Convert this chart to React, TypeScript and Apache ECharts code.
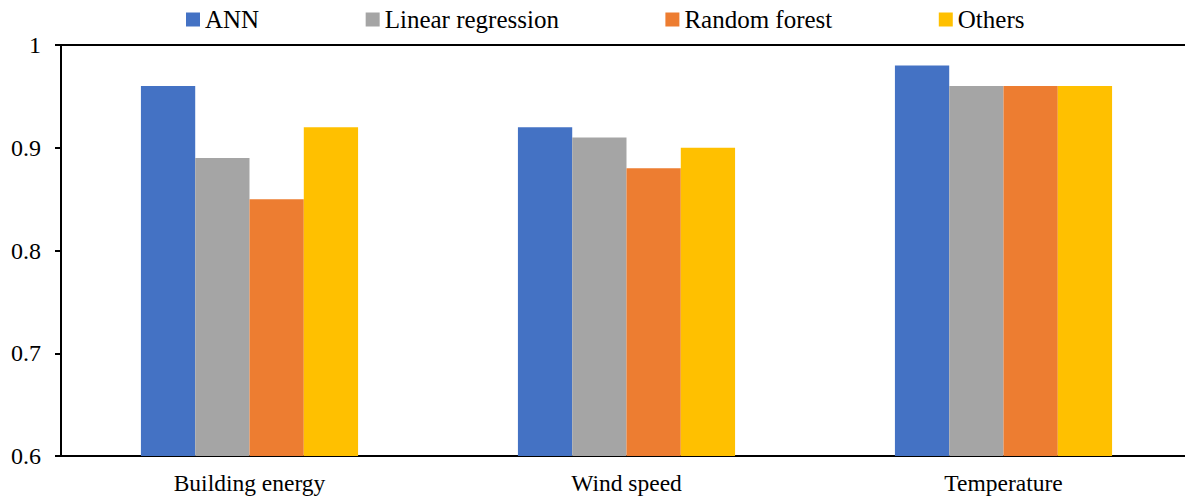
import React, { useEffect, useRef } from "react";
import * as echarts from "echarts";

const categories = ["Building energy", "Wind speed", "Temperature"];
const seriesNames = ["ANN", "Linear regression", "Random forest", "Others"];
const annValues = [0.96, 0.92, 0.98];
const linearValues = [0.89, 0.91, 0.96];
const forestValues = [0.85, 0.88, 0.96];
const otherValues = [0.92, 0.9, 0.96];
const colors = ["#4472C4", "#A5A5A5", "#ED7D31", "#FFC000"];

const FONT = '"Times New Roman", "Liberation Serif", serif';

export default function App() {
  const ref = useRef<HTMLDivElement>(null);

  useEffect(() => {
    if (!ref.current) return;
    const chart = echarts.init(ref.current, undefined, { renderer: "svg" });
    const values = [annValues, linearValues, forestValues, otherValues];
    chart.setOption({
      animation: false,
      backgroundColor: "#ffffff",
      textStyle: { fontFamily: FONT },
      legend: {
        left: 181,
        top: 2,
        itemWidth: 14,
        itemHeight: 14,
        itemGap: 106.5,
        icon: "rect",
        textStyle: { fontFamily: FONT, fontSize: 25, color: "#000" },
        data: seriesNames,
      },
      grid: {
        left: 61,
        right: -7,
        top: 45,
        bottom: 43,
        outerBoundsMode: "none",
        containLabel: false,
      },
      xAxis: [
        {
          type: "category",
          data: categories,
          axisLine: { lineStyle: { color: "#000", width: 2 } },
          axisTick: { show: false },
          axisLabel: {
            fontFamily: FONT,
            fontSize: 23.5,
            color: "#000",
            margin: 15,
          },
        },
        {
          // top frame line of the plot area
          type: "category",
          position: "top",
          data: categories,
          axisLine: { show: true, lineStyle: { color: "#000", width: 2 } },
          axisTick: { show: false },
          axisLabel: { show: false },
        },
      ],
      yAxis: {
        type: "value",
        min: 0.6,
        max: 1,
        interval: 0.1,
        axisLine: { show: true, lineStyle: { color: "#000", width: 2 } },
        axisTick: { show: true, length: 6, lineStyle: { color: "#000", width: 2 } },
        splitLine: { show: false },
        axisLabel: {
          fontFamily: FONT,
          fontSize: 24,
          color: "#000",
          margin: 20,
          formatter: (v: number) => String(Math.round(v * 10) / 10),
        },
      },
      series: seriesNames.map((name, i) => ({
        name,
        type: "bar",
        data: values[i],
        itemStyle: { color: colors[i] },
        barGap: "0%",
        barCategoryGap: "42.4%",
      })),
    });
    return () => chart.dispose();
  }, []);

  return (
    <div
      ref={ref}
      style={{ position: "absolute", left: 0, top: 0, width: 1185, height: 499 }}
    />
  );
}
